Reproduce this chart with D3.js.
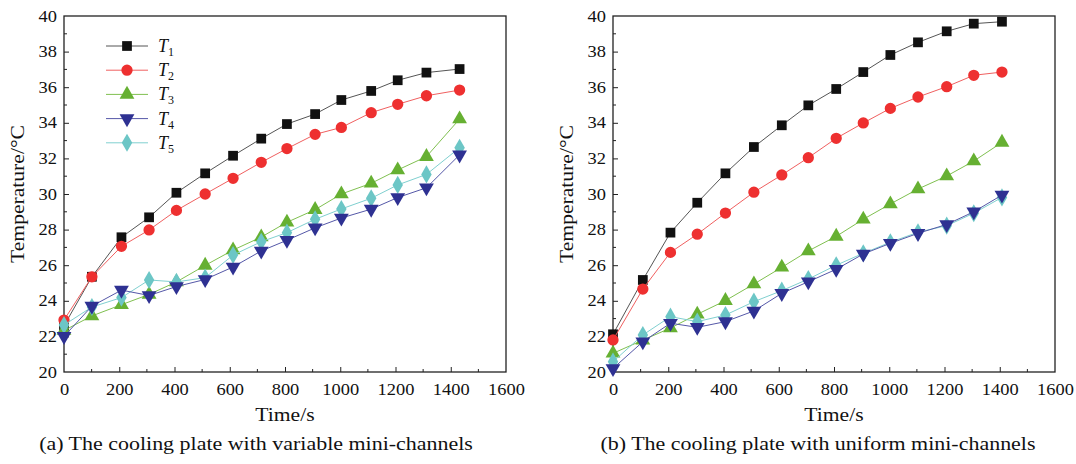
<!DOCTYPE html>
<html>
<head>
<meta charset="utf-8">
<script src="https://cdn.jsdelivr.net/npm/d3@7"></script>
<style>
  body { margin: 0; background: #fff; }
  text { font-family: "Liberation Serif", "Times New Roman", serif; fill: #111; }
</style>
</head>
<body>
<svg id="chart" width="1076" height="464"></svg>
<script>
// time stamps (s) for each panel
var timeA = [0, 101, 208, 308, 407, 511, 612, 714, 807, 909, 1004, 1112, 1208, 1312, 1432]
var timeB = [0, 108, 208, 305, 407, 510, 611, 707, 808, 906, 1004, 1104, 1208, 1306, 1408]

// (a) variable mini-channels
var t1A = [22.6, 25.35, 27.57, 28.69, 30.07, 31.16, 32.15, 33.11, 33.93, 34.49, 35.28, 35.79, 36.39, 36.82, 37.02]
var t2A = [22.92, 25.35, 27.06, 27.98, 29.08, 30.0, 30.88, 31.78, 32.55, 33.35, 33.74, 34.57, 35.04, 35.52, 35.84]
var t3A = [22.33, 23.15, 23.78, 24.36, 25.06, 25.99, 26.85, 27.58, 28.41, 29.12, 30.0, 30.6, 31.35, 32.1, 34.21]
var t4A = [22.0, 23.7, 24.6, 24.3, 24.8, 25.2, 25.9, 26.8, 27.4, 28.1, 28.65, 29.15, 29.8, 30.35, 32.2]
var t5A = [22.64, 23.65, 24.18, 25.17, 25.06, 25.30, 26.57, 27.32, 27.83, 28.58, 29.16, 29.76, 30.51, 31.1, 32.6]

// (b) uniform mini-channels
var t1B = [22.12, 25.17, 27.83, 29.51, 31.16, 32.64, 33.86, 34.98, 35.9, 36.85, 37.81, 38.52, 39.14, 39.57, 39.68]
var t2B = [21.8, 24.66, 26.72, 27.74, 28.93, 30.1, 31.07, 32.04, 33.13, 33.99, 34.81, 35.45, 36.03, 36.67, 36.85]
var t3B = [21.05, 21.79, 22.47, 23.24, 24.01, 24.94, 25.88, 26.8, 27.62, 28.58, 29.44, 30.28, 31.01, 31.85, 32.9]
var t4B = [20.2, 21.7, 22.74, 22.51, 22.83, 23.43, 24.42, 25.07, 25.77, 26.63, 27.23, 27.79, 28.29, 29.0, 29.94]
var t5B = [20.58, 22.08, 23.11, 22.83, 23.2, 23.95, 24.57, 25.22, 26.0, 26.67, 27.29, 27.85, 28.22, 28.92, 29.81]

var seriesNames = ["1", "2", "3", "4", "5"]
var xTicks = [0, 200, 400, 600, 800, 1000, 1200, 1400, 1600]
var yTicks = [20, 22, 24, 26, 28, 30, 32, 34, 36, 38, 40]
var captions = ["(a) The cooling plate with variable mini-channels", "(b) The cooling plate with uniform mini-channels"]

var styles = [
    {marker: "#111111", line: "#555555", symbol: d3.symbolSquare, size: 95, rot: 0},
    {marker: "#ee3030", line: "#f06060", symbol: d3.symbolCircle, size: 100, rot: 0},
    {marker: "#66b032", line: "#80c050", symbol: d3.symbolTriangle, size: 95, rot: 0},
    {marker: "#2e3192", line: "#5558a8", symbol: d3.symbolTriangle, size: 95, rot: 180},
    {marker: "#6cc6c6", line: "#80d0d0", symbol: d3.symbolDiamond, size: 95, rot: 0}
]
// draw order: T4 over T5
var drawOrder = [0, 1, 2, 4, 3]

var svg = d3.select("#chart")

var dims = { width: 442, height: 356, top: 16 }

// the original figure's text is a bit wider than the font, stretch along the baseline
function stretch(sel, k) {
    sel.each(function() {
        var w = this.getComputedTextLength()
        d3.select(this).attr("textLength", w * k).attr("lengthAdjust", "spacingAndGlyphs")
    })
}

function drawPanel(left, times, data, caption, capX, showLegend) {
    var g = svg.append("g").attr("transform", "translate(" + left + "," + dims.top + ")")

    var xScale = d3.scaleLinear().domain([0, 1600]).range([0, dims.width])
    var yScale = d3.scaleLinear().domain([20, 40]).range([dims.height, 0])

    // minor ticks (inward)
    var xMinor = d3.range(100, 1600, 200)
    var yMinor = d3.range(21, 40, 2)

    var xAxisGen = d3.axisBottom(xScale).tickValues(xTicks).tickFormat(d3.format("d"))
        .tickSizeInner(-5).tickSizeOuter(0).tickPadding(12)
    var yAxisGen = d3.axisLeft(yScale).tickValues(yTicks).tickFormat(d3.format("d"))
        .tickSizeInner(-5).tickSizeOuter(0).tickPadding(7)

    var xa = g.append("g").attr("transform", "translate(0," + dims.height + ")").call(xAxisGen)
    xa.selectAll(".tick").filter(d => d === 0 || d === 1600).select("line").remove()
    var ya = g.append("g").call(yAxisGen)
    ya.selectAll(".tick").filter(d => d === 20 || d === 40).select("line").remove()

    g.selectAll(".xminor").data(xMinor).enter().append("line")
        .attr("x1", d => xScale(d)).attr("x2", d => xScale(d))
        .attr("y1", dims.height).attr("y2", dims.height - 3)
        .attr("stroke", "#222")
    g.selectAll(".yminor").data(yMinor).enter().append("line")
        .attr("y1", d => yScale(d)).attr("y2", d => yScale(d))
        .attr("x1", 0).attr("x2", 3)
        .attr("stroke", "#222")

    g.selectAll(".domain").remove()
    g.append("rect")
        .attr("width", dims.width).attr("height", dims.height)
        .attr("fill", "none").attr("stroke", "#222").attr("stroke-width", 1.3)

    g.selectAll(".tick line").attr("stroke", "#222")
    g.selectAll(".tick text").style("font-size", "16px").attr("fill", "#111")
    stretch(g.selectAll(".tick text"), 1.15)

    var line = d3.line().x(d => xScale(d[0])).y(d => yScale(d[1]))

    drawOrder.forEach(function(i) {
        var pts = times.map((t, k) => [t, data[i][k]])
        g.append("path").datum(pts)
            .attr("d", line).attr("fill", "none")
            .attr("stroke", styles[i].line).attr("stroke-width", 1)
        g.selectAll(".m" + i).data(pts).enter().append("path")
            .attr("transform", d => "translate(" + xScale(d[0]) + "," + yScale(d[1]) + ") rotate(" + styles[i].rot + ")")
            .attr("d", d3.symbol().type(styles[i].symbol).size(styles[i].size))
            .attr("fill", styles[i].marker)
    })

    // axis titles
    var xt = g.append("text")
        .attr("x", dims.width / 2).attr("y", dims.height + 49)
        .attr("text-anchor", "middle").style("font-size", "18px")
        .text("Time/s")
    var yt = g.append("text")
        .attr("transform", "rotate(-90)")
        .attr("x", -dims.height / 2 + 0).attr("y", -40)
        .attr("text-anchor", "middle").style("font-size", "18px")
        .text("Temperature/°C")
    var ct = g.append("text")
        .attr("x", capX).attr("y", dims.height + 78)
        .attr("text-anchor", "middle").style("font-size", "18px")
        .text(caption)
    stretch(xt, 1.2)
    stretch(yt, 1.2)
    stretch(ct, 1.22)

    if (showLegend) {
        var lg = g.append("g").attr("transform", "translate(42, 30)")
        seriesNames.forEach(function(name, i) {
            var row = lg.append("g").attr("transform", "translate(0," + (i * 24.2) + ")")
            row.append("line").attr("x1", 0).attr("x2", 42)
                .attr("stroke", styles[i].line).attr("stroke-width", 1)
            row.append("path")
                .attr("transform", "translate(21,0) rotate(" + styles[i].rot + ")")
                .attr("d", d3.symbol().type(styles[i].symbol).size(styles[i].size))
                .attr("fill", styles[i].marker)
            var tx = row.append("text").attr("x", 52).attr("y", 6).style("font-size", "18px")
            tx.append("tspan").style("font-style", "italic").text("T")
            tx.append("tspan").attr("dy", 4).style("font-size", "12px").text(name)
        })
    }
}

drawPanel(64, timeA, [t1A, t2A, t3A, t4A, t5A], captions[0], 192, true)
drawPanel(613, timeB, [t1B, t2B, t3B, t4B, t5B], captions[1], 205, false)
</script>
</body>
</html>
